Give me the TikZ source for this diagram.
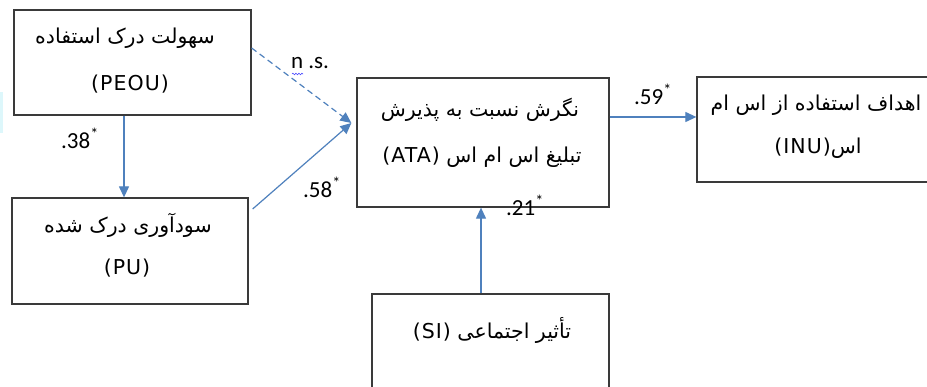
\documentclass[tikz,border=0pt]{standalone}
\usepackage{fontspec}
\setmainfont{Carlito}
\newfontfamily\fa[Script=Arabic]{DejaVu Sans}
\newfontfamily\lat[LetterSpace=5]{DejaVu Sans}
\TeXXeTstate=1
\usetikzlibrary{arrows.meta,decorations.pathmorphing,calc}
\definecolor{arr}{HTML}{4F81BD}
\definecolor{boxc}{HTML}{3A3A3A}
\definecolor{glitch}{HTML}{DDF7FB}
\newcommand{\latin}[1]{{\lat\fontsize{20.5}{24}\selectfont #1}}
\begin{document}
\begin{tikzpicture}[x=1pt,y=-1pt,
  box/.style={draw=boxc, line width=1.3pt, inner sep=0pt},
  fatext/.style={font=\fontsize{20.5}{24}\selectfont\fa, inner sep=0pt},
  latext/.style={font=\fontsize{20.5}{24}\selectfont\lat, inner sep=0pt},
  coef/.style={font=\fontsize{23}{26}\selectfont, inner sep=0pt},
  link/.style={draw=arr, line width=1.2pt, -{Triangle[length=11pt,width=10pt]}},
  dlink/.style={link, dash pattern=on 6pt off 4pt}]
\clip (0,0) rectangle (927,387);
\fill[white] (0,0) rectangle (927,387);
\fill[glitch] (0,92) rectangle (3,133);
% boxes
\node[box, minimum width=237pt, minimum height=105pt] (peou) at (132.5,62.5) {};
\node[box, minimum width=236pt, minimum height=106pt] (pu) at (130,251) {};
\node[box, minimum width=252pt, minimum height=129pt] (ata) at (483,142.5) {};
\node[box, minimum width=240pt, minimum height=105pt] (inu) at (817,129.5) {};
\node[box, minimum width=237pt, minimum height=130pt] (si) at (490.5,359) {};
% texts
\node[fatext] (peou1) at (125,38) {\beginR سهولت درک استفاده\endR};
\node[latext] (peou2) at (130,84) {(PEOU)};
\node[fatext] (pu1) at (128,225) {\beginR سودآوری درک شده\endR};
\node[latext] (pu2) at (127,268) {(PU)};
\node[fatext] (ata1) at (480,110) {\beginR نگرش نسبت به پذیرش\endR};
\node[fatext] (ata2) at (482,157) {\beginR تبلیغ اس ام اس \beginL\latin{(ATA)}\endL\endR};
\node[fatext] (inu1) at (816,105) {\beginR اهداف استفاده از اس ام\endR};
\node[fatext] (inu2) at (818,148) {\beginR اس\beginL\latin{(INU)}\endL\endR};
\node[fatext] (si1) at (492,330) {\beginR تأثیر اجتماعی \beginL\latin{(SI)}\endL\endR};
% connectors
\coordinate (tip) at ($(ata.west)+(-5,-19.5)$);
\draw[link] (peou.south -| 124,0) -- (pu.north -| 124,0);
\draw[dlink] ($(peou.east)+(0,-14.5)$) -- (tip);
\draw[link] ($(pu.east)+(4,-42)$) -- (tip);
\draw[link] ($(ata.east)+(0,-25.5)$) -- ($(inu.west)+(0,-12.5)$);
\draw[link] (si.north -| 481,0) -- (ata.south -| 481,0);
% labels
\node[coef] (ns) at (310,63) {n .s.};
\draw[blue!70, line width=0.6pt, decorate, decoration={snake, amplitude=0.8pt, segment length=3pt}] (292,74) -- (303,74);
\node[coef] (c38) at (80,138) {.38\textsuperscript{*}};
\node[coef] (c58) at (322,187) {.58\textsuperscript{*}};
\node[coef] (c21) at (525,205) {.21\textsuperscript{*}};
\node[coef] (c59) at (653,94) {.59\textsuperscript{*}};
\end{tikzpicture}
\end{document}
